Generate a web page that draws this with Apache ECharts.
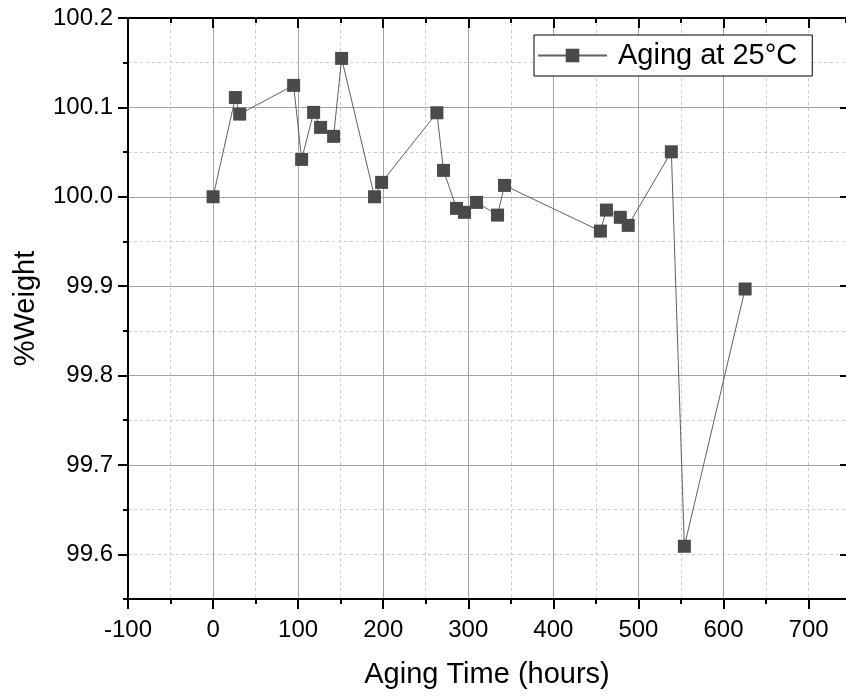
<!DOCTYPE html>
<html>
<head>
<meta charset="utf-8">
<script src="https://cdn.jsdelivr.net/npm/echarts@6/dist/echarts.min.js"></script>
<style>html,body{margin:0;padding:0;background:#fff;}#c{width:846px;height:696px;}</style>
</head>
<body>
<div id="c"></div>
<script>
// ---- data ----
const seriesName = 'Aging at 25°C';
const hours  = [0, 26.2, 31.3, 94.7, 104.1, 118.2, 126.4, 141.7, 151.1, 189.8, 198.1, 263.1, 270.9, 286.2, 295.6, 309.7, 334.4, 342.6, 455.3, 462.4, 478.7, 488.0, 538.7, 554.0, 625.4];
const weight = [100.000, 100.111, 100.0925, 100.1246, 100.0418, 100.0944, 100.0776, 100.0676, 100.1548, 100.000, 100.0161, 100.094, 100.0295, 99.987, 99.9826, 99.9937, 99.9795, 100.0127, 99.9616, 99.9851, 99.977, 99.968, 100.0503, 99.609, 99.8968];
const xTickLabels = [-100, 0, 100, 200, 300, 400, 500, 600, 700];
const yTickLabels = [99.6, 99.7, 99.8, 99.9, 100.0, 100.1, 100.2];
const xTitle = 'Aging Time (hours)';
const yTitle = '%Weight';

const FONT = 'Liberation Sans, Arial, sans-serif';
const X_MIN = -100, X_MAX = 744, Y_MIN = 99.55, Y_MAX = 100.2;
const MAJOR = '#a3a3a3', MINOR = '#cccccc';

function isXLabel(v){ return xTickLabels.some(t => Math.abs(t - v) < 1e-6); }
function isYLabel(v){ return yTickLabels.some(t => Math.abs(t - v) < 1e-6); }

const chart = echarts.init(document.getElementById('c'), null, {renderer:'canvas'});
chart.setOption({
  animation: false,
  backgroundColor: '#ffffff',
  grid: {left: 128, top: 18, right: 0, bottom: 97, containLabel: false},
  legend: {
    data: [seriesName],
    left: 534, top: 35,
    orient: 'horizontal',
    backgroundColor: '#ffffff',
    borderColor: '#000000', borderWidth: 1,
    padding: [6, 15, 6, 3],
    itemWidth: 69, itemHeight: 17,
    textStyle: {fontFamily: FONT, fontSize: 29, color: '#000', padding: [0, 0, 0, 6]}
  },
  xAxis: [
    { // main bottom axis: minor spacing, labels, dashed minor grid
      type: 'value', position: 'bottom', min: X_MIN, max: X_MAX, interval: 50,
      name: xTitle, nameLocation: 'middle', nameGap: 61,
      nameTextStyle: {fontFamily: FONT, fontSize: 29, color: '#000'},
      axisLine: {show: true, onZero: false, lineStyle: {color: '#000', width: 2}},
      axisTick: {show: true, inside: false, length: 5, lineStyle: {color: '#000', width: 2}},
      axisLabel: {show: true, margin: 19, fontFamily: FONT, fontSize: 24, color: '#000',
        formatter: v => isXLabel(v) ? String(v) : '', showMaxLabel: false},
      splitLine: {show: true, showMaxLine: false, lineStyle: {color: MINOR, width: 1, type: [3, 3]}}
    },
    { // bottom majors
      type: 'value', position: 'bottom', min: X_MIN, max: X_MAX, interval: 100,
      axisLine: {show: false, onZero: false},
      axisTick: {show: true, inside: false, length: 10, lineStyle: {color: '#000', width: 2},
        customValues: xTickLabels},
      axisLabel: {show: false},
      splitLine: {show: true, showMaxLine: false, lineStyle: {color: MAJOR, width: 1, type: 'solid'}}
    },
    { // top minor
      type: 'value', position: 'top', min: X_MIN, max: X_MAX, interval: 50,
      axisLine: {show: true, onZero: false, lineStyle: {color: '#000', width: 2}},
      axisTick: {show: true, inside: true, length: 5, lineStyle: {color: '#000', width: 2}},
      axisLabel: {show: false}, splitLine: {show: false}
    },
    { // top majors
      type: 'value', position: 'top', min: X_MIN, max: X_MAX, interval: 100,
      axisLine: {show: false, onZero: false},
      axisTick: {show: true, inside: true, length: 10, lineStyle: {color: '#000', width: 2},
        customValues: xTickLabels},
      axisLabel: {show: false}, splitLine: {show: false}
    }
  ],
  yAxis: [
    { // main left: minor spacing, labels, dashed grid
      type: 'value', position: 'left', min: Y_MIN, max: Y_MAX, interval: 0.05,
      name: yTitle, nameLocation: 'middle', nameGap: 88, nameRotate: 90,
      nameTextStyle: {fontFamily: FONT, fontSize: 29, color: '#000'},
      axisLine: {show: true, onZero: false, lineStyle: {color: '#000', width: 2}},
      axisTick: {show: true, inside: false, length: 5, lineStyle: {color: '#000', width: 2}},
      axisLabel: {show: true, margin: 15, fontFamily: FONT, fontSize: 24, color: '#000',
        formatter: v => isYLabel(v) ? v.toFixed(1) : ''},
      splitLine: {show: true, lineStyle: {color: MINOR, width: 1, type: [3, 3]}}
    },
    { // left majors
      type: 'value', position: 'left', min: Y_MIN, max: Y_MAX, minInterval: 0.1, maxInterval: 0.1,
      axisLine: {show: false, onZero: false},
      axisTick: {show: true, inside: false, length: 10, lineStyle: {color: '#000', width: 2},
        customValues: yTickLabels},
      axisLabel: {show: false},
      splitLine: {show: true, showMinLine: false, lineStyle: {color: MAJOR, width: 1, type: 'solid'}}
    },
    { // right majors (axis line lies beyond the picture edge)
      type: 'value', position: 'right', min: Y_MIN, max: Y_MAX, minInterval: 0.1, maxInterval: 0.1,
      axisLine: {show: false, onZero: false},
      axisTick: {show: true, inside: true, length: 6, lineStyle: {color: '#000', width: 2},
        customValues: yTickLabels},
      axisLabel: {show: false}, splitLine: {show: false}
    }
  ],
  series: [{
    name: seriesName,
    type: 'line',
    xAxisIndex: 0, yAxisIndex: 0,
    data: hours.map((h, i) => [h, weight[i]]),
    symbol: 'rect', symbolSize: 13,
    itemStyle: {color: '#4a4a4a'},
    lineStyle: {color: '#606060', width: 1},
    z: 5
  }]
});
</script>
</body>
</html>
